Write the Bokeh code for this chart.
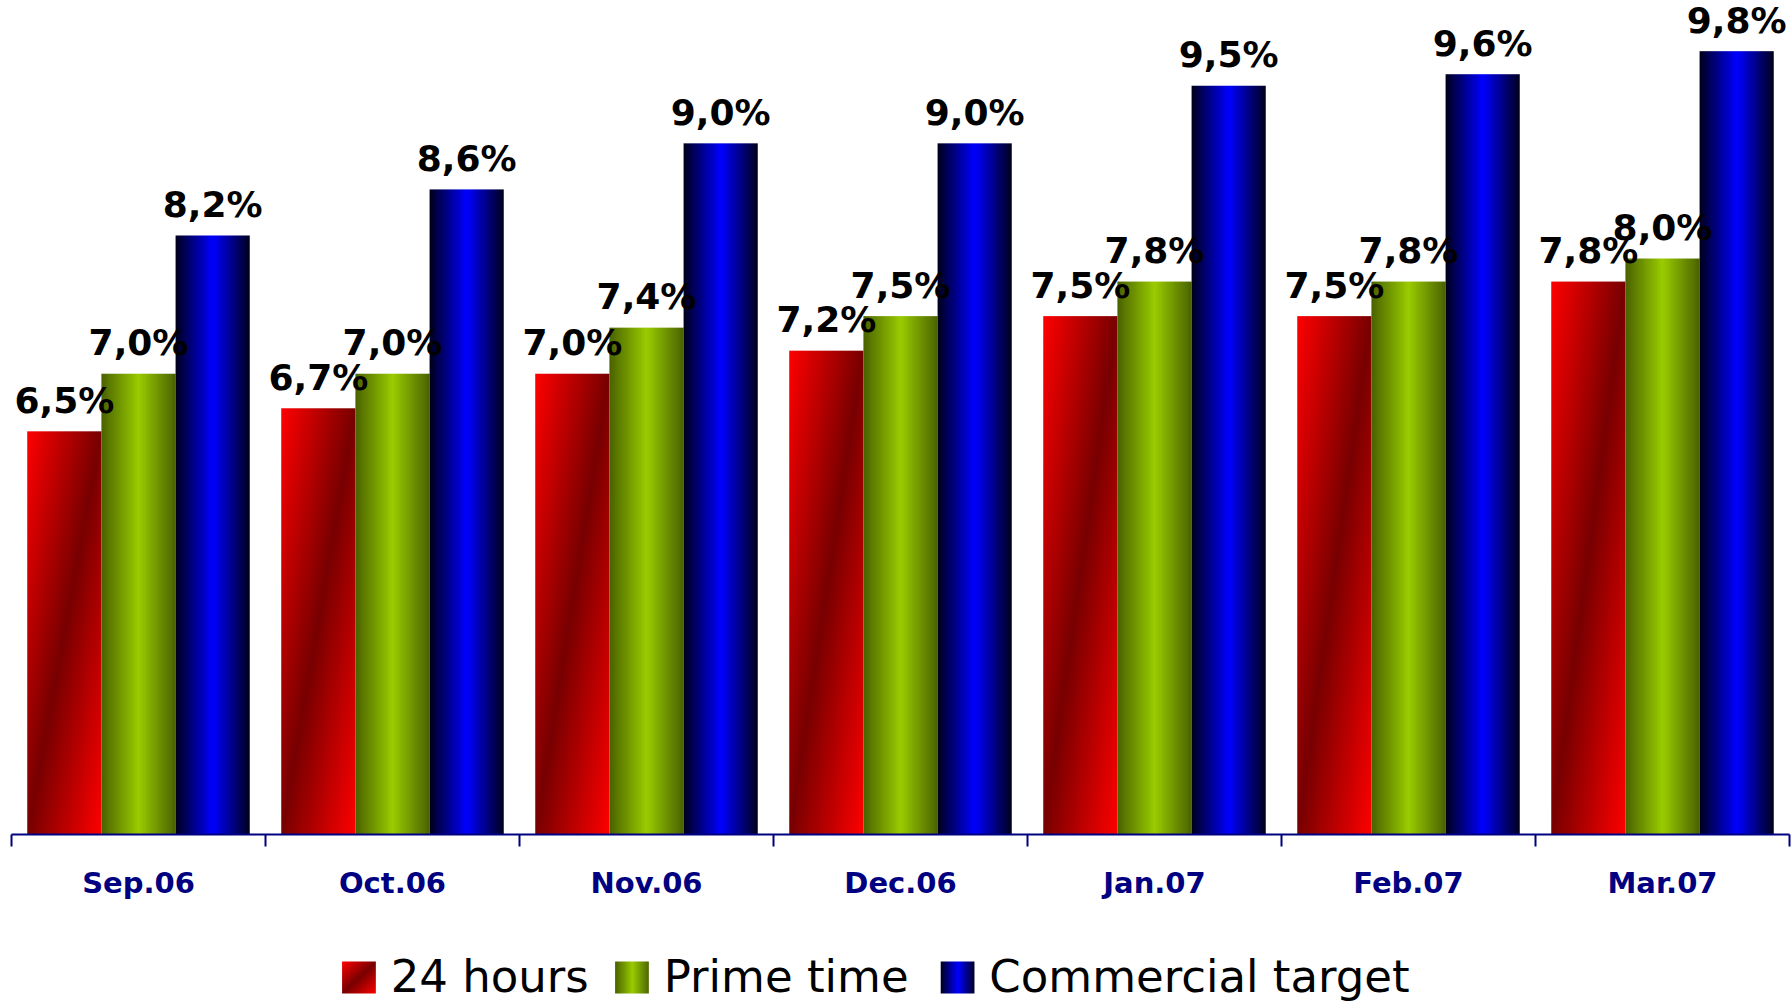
import numpy as np
from bokeh.plotting import figure
from bokeh.models import ColumnDataSource, Range1d, FixedTicker, LinearAxis
from bokeh.layouts import column
from bokeh.embed import file_html
from bokeh.resources import INLINE
from bokeh.core.properties import value

# Audience share by month
months = ["Sep.06", "Oct.06", "Nov.06", "Dec.06", "Jan.07", "Feb.07", "Mar.07"]
hours_24 = [6.5, 6.7, 7.0, 7.2, 7.5, 7.5, 7.8]
prime_time = [7.0, 7.0, 7.4, 7.5, 7.8, 7.8, 8.0]
commercial_target = [8.2, 8.6, 9.0, 9.0, 9.5, 9.6, 9.8]
series_names = ["24 hours", "Prime time", "Commercial target"]

Y_BASE = 3.0
Y_TOP = 10.24
BAR_W = 0.292
OFFSETS = [-0.292, 0.0, 0.292]

NAVY = "#000080"


def pack(rgb):
    """Turn an (h, w, 3) float RGB array into Bokeh's packed RGBA uint32 image."""
    h, w = rgb.shape[:2]
    out = np.empty((h, w), dtype=np.uint32)
    view = out.view(dtype=np.uint8).reshape((h, w, 4))
    view[..., :3] = np.clip(np.round(rgb), 0, 255).astype(np.uint8)
    view[..., 3] = 255
    return out


def horizontal_gradient(edge, center, nx=80):
    """Dark edges, bright middle: a cylinder-like shading across the bar."""
    u = (np.arange(nx) + 0.5) / nx
    f = 1.0 - np.abs(2.0 * u - 1.0)
    edge = np.array(edge, float)
    center = np.array(center, float)
    rgb = edge[None, :] + (center - edge)[None, :] * f[:, None]
    return pack(rgb[None, :, :])


def diagonal_gradient(light, dark, nx=80, ny=260):
    """Light top-left and bottom-right corners, dark band along the other diagonal."""
    u = (np.arange(nx) + 0.5) / nx
    v = 1.0 - (np.arange(ny) + 0.5) / ny  # row 0 is the bottom of the image
    uu, vv = np.meshgrid(u, v)
    t = (uu + vv) / 2.0
    f = np.abs(2.0 * t - 1.0)
    light = np.array(light, float)
    dark = np.array(dark, float)
    rgb = dark + (light - dark) * f[..., None]
    return pack(rgb)


RED_IMG = diagonal_gradient((255, 0, 0), (120, 0, 0))
GREEN_IMG = horizontal_gradient((74, 98, 0), (153, 204, 0))
BLUE_IMG = horizontal_gradient((0, 0, 28), (0, 0, 255))
series_images = [RED_IMG, GREEN_IMG, BLUE_IMG]
series_values = [hours_24, prime_time, commercial_target]

p = figure(
    width=1791, height=920,
    x_range=Range1d(-0.5, 6.5), y_range=Range1d(Y_BASE, Y_TOP),
    x_axis_type=None, y_axis_type=None,
    output_backend="svg", toolbar_location=None,
    min_border_left=11, min_border_right=2, min_border_top=0, min_border_bottom=86,
    background_fill_color="white", border_fill_color="white",
    outline_line_color=None,
)
p.grid.visible = False

positions = list(range(len(months)))

for img, vals, off in zip(series_images, series_values, OFFSETS):
    src = ColumnDataSource(dict(
        image=[img] * len(vals),
        x=[i + off - BAR_W / 2 for i in positions],
        y=[Y_BASE] * len(vals),
        dw=[BAR_W] * len(vals),
        dh=[v - Y_BASE for v in vals],
    ))
    p.image_rgba(image="image", x="x", y="y", dw="dw", dh="dh", source=src)

for vals, off in zip(series_values, OFFSETS):
    p.text(
        x=[i + off for i in positions], y=vals,
        text=[f"{v:.1f}".replace(".", ",") + "%" for v in vals],
        text_align="center", text_baseline="alphabetic", y_offset=-31,
        text_font=value("DejaVu Sans"), text_font_style="bold",
        text_font_size="36px", text_color="black",
    )

xaxis = LinearAxis(
    ticker=FixedTicker(ticks=positions, minor_ticks=[i - 0.5 for i in range(len(months) + 1)]),
    major_label_overrides={i: m for i, m in zip(positions, months)},
    axis_line_color=NAVY, axis_line_width=2,
    major_tick_out=0, major_tick_in=0,
    minor_tick_out=12, minor_tick_in=0,
    minor_tick_line_color=NAVY, minor_tick_line_width=2,
    major_label_standoff=19,
    major_label_text_font="DejaVu Sans", major_label_text_font_style="bold",
    major_label_text_font_size="29px", major_label_text_color=NAVY,
)
p.add_layout(xaxis, "below")

# Legend strip
lg = figure(
    width=1791, height=87,
    x_range=Range1d(0, 1791), y_range=Range1d(0, 87),
    x_axis_type=None, y_axis_type=None,
    output_backend="svg", toolbar_location=None,
    min_border=0, outline_line_color=None,
    background_fill_color="white", border_fill_color="white",
)
lg.grid.visible = False

swatch_x = [333, 608, 936]
lg.image_rgba(
    image=[diagonal_gradient((255, 0, 0), (120, 0, 0), nx=40, ny=40), GREEN_IMG, BLUE_IMG],
    x=swatch_x, y=[14] * 3, dw=[34] * 3, dh=[32] * 3,
)
lg.text(
    x=[sx + 49 for sx in swatch_x], y=[31] * 3, text=series_names,
    text_align="left", text_baseline="alphabetic",
    text_font=value("DejaVu Sans"), text_font_size="45px", text_color="black",
)

layout = column(p, lg, spacing=0)
open("out.html", "w").write(file_html(layout, INLINE))
